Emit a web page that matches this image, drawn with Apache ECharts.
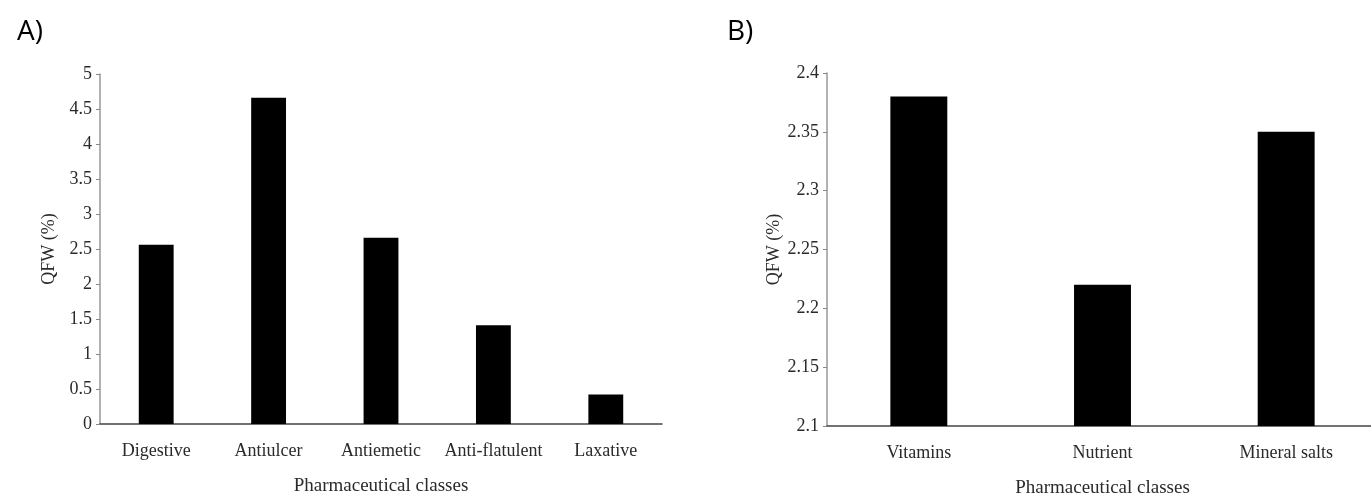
<!DOCTYPE html>
<html>
<head>
<meta charset="utf-8">
<script src="https://cdn.jsdelivr.net/npm/echarts@6/dist/echarts.min.js"></script>
<style>
html,body{margin:0;padding:0;background:#fff;}
#chart{width:1371px;height:496px;}
</style>
</head>
<body>
<div id="chart"></div>
<script>
const categoriesA = ["Digestive", "Antiulcer", "Antiemetic", "Anti-flatulent", "Laxative"];
const valuesA = [2.56, 4.66, 2.66, 1.41, 0.42];
const categoriesB = ["Vitamins", "Nutrient", "Mineral salts"];
const valuesB = [2.38, 2.22, 2.35];
const yNameA = "QFW (%)";
const yNameB = "QFW (%)";
const xName = "Pharmaceutical classes";
const panelLabels = ["A)", "B)"];

const serif = "'Liberation Serif', 'DejaVu Serif', serif";
const txt = {fontFamily: serif, fontSize: 18, color: "#2a2a2a"};

function xAxisCfg(cats, gi) {
  return {
    type: "category", gridIndex: gi, data: cats,
    name: xName, nameLocation: "middle", nameGap: 53,
    nameTextStyle: Object.assign({}, txt, {fontSize: 19}),
    axisLine: {lineStyle: {color: "#444", width: 1.5}},
    axisTick: {alignWithLabel: true, length: 5, lineStyle: {color: "#666"}},
    axisLabel: Object.assign({margin: 18, interval: 0}, txt)
  };
}
function yAxisCfg(gi, name, min, max, interval, fmt) {
  return {
    type: "value", gridIndex: gi, min: min, max: max, interval: interval,
    name: name, nameLocation: "middle", nameGap: 42,
    nameTextStyle: Object.assign({}, txt),
    splitLine: {show: false},
    axisLine: {show: true, lineStyle: {color: "#999", width: 1.5}},
    axisTick: {show: true, length: 4, lineStyle: {color: "#888"}},
    axisLabel: Object.assign({margin: 8, formatter: fmt}, txt)
  };
}

const chart = echarts.init(document.getElementById("chart"));
chart.setOption({
  animation: false,
  backgroundColor: "#fff",
  title: [
    {text: panelLabels[0], left: 12, top: 13, textStyle: {fontFamily: "'Open Sans', sans-serif", fontSize: 28, fontWeight: "normal", color: "#000"}},
    {text: panelLabels[1], left: 722, top: 13, textStyle: {fontFamily: "'Open Sans', sans-serif", fontSize: 28, fontWeight: "normal", color: "#000"}}
  ],
  grid: [
    {left: 100, top: 74, width: 562, bottom: 72, outerBoundsMode: "none", containLabel: false},
    {left: 827, top: 73, width: 551, bottom: 70, outerBoundsMode: "none", containLabel: false}
  ],
  xAxis: [xAxisCfg(categoriesA, 0), xAxisCfg(categoriesB, 1)],
  yAxis: [
    yAxisCfg(0, yNameA, 0, 5, 0.5, v => String(+v.toFixed(1))),
    yAxisCfg(1, yNameB, 2.1, 2.4, 0.05, v => String(+v.toFixed(2)))
  ],
  series: [
    {type: "bar", xAxisIndex: 0, yAxisIndex: 0, data: valuesA, barWidth: "31%", itemStyle: {color: "#000"}},
    {type: "bar", xAxisIndex: 1, yAxisIndex: 1, data: valuesB, barWidth: "31%", itemStyle: {color: "#000"}}
  ]
});
</script>
</body>
</html>
